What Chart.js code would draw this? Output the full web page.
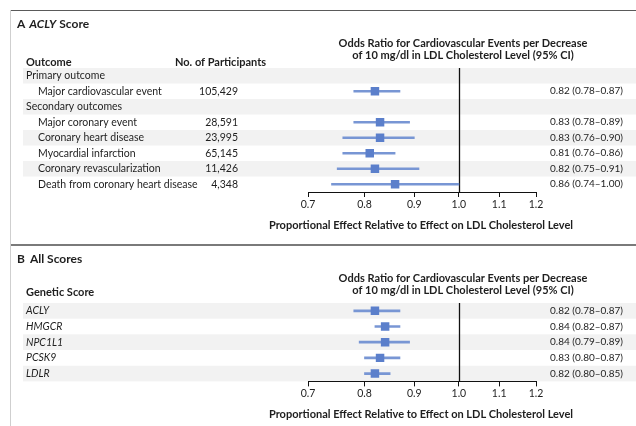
<!DOCTYPE html>
<html>
<head>
<meta charset="utf-8">
<script src="https://cdn.jsdelivr.net/npm/chart.js@4.4.1/dist/chart.umd.min.js"></script>
<style>
  html, body { margin: 0; padding: 0; background: #fff; }
  #fig { position: relative; width: 636px; height: 426px; overflow: hidden; background: #fff; }
  #fig canvas { position: absolute; left: 0; }
  .rule { position: absolute; }
</style>
</head>
<body>
<div id="fig">
  <canvas id="panelA" width="636" height="245" style="top:0"></canvas>
  <canvas id="panelB" width="636" height="181" style="top:245px"></canvas>
  <div class="rule" style="left:10px;top:10px;width:626px;height:1px;background:#5a5a5a"></div>
  <div class="rule" style="left:10px;top:244px;width:626px;height:2px;background:#7a7a7a"></div>
  <div class="rule" style="left:10px;top:10px;width:1px;height:416px;background:#cfcfcf"></div>
</div>
<script>
// ---- Panel A: ACLY score, by outcome ----
const outcomeRows = [
  'Primary outcome',
  'Major cardiovascular event',
  'Secondary outcomes',
  'Major coronary event',
  'Coronary heart disease',
  'Myocardial infarction',
  'Coronary revascularization',
  'Death from coronary heart disease'
];
const outcomeIndent = [0, 1, 0, 1, 1, 1, 1, 1];
const outcomeParticipants = ['', '105,429', '', '28,591', '23,995', '65,145', '11,426', '4,348'];
const outcomeOR   = [null, 0.82, null, 0.83, 0.83, 0.81, 0.82, 0.86];
const outcomeLow  = [null, 0.78, null, 0.78, 0.76, 0.76, 0.75, 0.74];
const outcomeHigh = [null, 0.87, null, 0.89, 0.90, 0.86, 0.91, 1.00];

// ---- Panel B: all genetic scores ----
const scoreRows = ['ACLY', 'HMGCR', 'NPC1L1', 'PCSK9', 'LDLR'];
const scoreOR   = [0.82, 0.84, 0.84, 0.83, 0.82];
const scoreLow  = [0.78, 0.82, 0.79, 0.80, 0.80];
const scoreHigh = [0.87, 0.87, 0.89, 0.87, 0.85];

// ---- Shared axis ----
const xTicks = [0.7, 0.8, 0.9, 1.0, 1.1, 1.2];
const orHeading = [
  'Odds Ratio for Cardiovascular Events per Decrease',
  'of 10 mg/dl in LDL Cholesterol Level (95% CI)'
];
const axisTitle = 'Proportional Effect Relative to Effect on LDL Cholesterol Level';

const FONT = 'Lato, "Open Sans", sans-serif';
const BODY = '10.5px ' + FONT;
const INK = '#1e1e1e';
const BAND = '#f2f2f2';
const MARK = '#5b7fcb';
const WHISKER = '#7896d4';

function ciLabel(or, lo, hi) {
  return or.toFixed(2) + ' (' + lo.toFixed(2) + '\u2013' + hi.toFixed(2) + ')';
}

function drawRun(ctx, parts, x, y) {
  let cx = x;
  for (const p of parts) {
    ctx.font = p.font;
    ctx.fillText(p.text, cx, y);
    cx += ctx.measureText(p.text).width + (p.gap || 0);
  }
}

function tablePlugin(cfg) {
  return {
    id: 'forestTable',
    beforeDraw(chart) {
      const { ctx, chartArea, scales } = chart;
      const n = cfg.rows.length;
      const h = (chartArea.bottom - chartArea.top) / n;
      ctx.save();
      ctx.fillStyle = BAND;
      for (let i = 0; i < n; i += 2) {
        const cy = scales.y.getPixelForValue(i);
        ctx.fillRect(23, cy - h / 2, chart.width - 23, h);
      }
      ctx.restore();
    },
    beforeDatasetsDraw(chart) {
      const { ctx, chartArea, scales } = chart;
      const x1 = Math.round(scales.x.getPixelForValue(1.0)) + 0.5;
      ctx.save();
      ctx.strokeStyle = '#111';
      ctx.lineWidth = 1.3;
      ctx.beginPath();
      ctx.moveTo(x1, chartArea.top);
      ctx.lineTo(x1, chartArea.bottom);
      ctx.stroke();
      ctx.restore();
    },
    afterDraw(chart) {
      const { ctx, scales, chartArea } = chart;
      ctx.save();
      ctx.fillStyle = INK;
      ctx.textBaseline = 'middle';
      ctx.textAlign = 'left';
      // panel title
      drawRun(ctx, cfg.title, 17, cfg.titleY);
      // column heads
      ctx.font = 'bold 11px ' + FONT;
      for (const hd of cfg.heads) {
        ctx.textAlign = hd.align || 'left';
        ctx.fillText(hd.text, hd.x, hd.y);
      }
      ctx.textAlign = 'center';
      ctx.fillText(orHeading[0], 463, cfg.orHeadY);
      ctx.fillText(orHeading[1], 463, cfg.orHeadY + 12.5);
      // axis title, centred under the scale
      ctx.fillText(axisTitle, (chartArea.left + chartArea.right) / 2 - 1, chartArea.bottom + 33);
      // rows
      for (let i = 0; i < cfg.rows.length; i++) {
        const cy = scales.y.getPixelForValue(i);
        ctx.textAlign = 'left';
        ctx.font = (cfg.italic ? 'italic ' : '') + BODY;
        ctx.fillText(cfg.rows[i], cfg.indent && cfg.indent[i] ? 38 : 26, cy);
        ctx.font = BODY;
        if (cfg.counts && cfg.counts[i]) {
          ctx.textAlign = 'right';
          ctx.fillText(cfg.counts[i], 238, cy);
        }
        if (cfg.or[i] != null) {
          ctx.textAlign = 'right';
          ctx.font = '10px ' + FONT;
          ctx.fillText(ciLabel(cfg.or[i], cfg.lo[i], cfg.hi[i]), 623, cy);
        }
      }
      ctx.restore();
    }
  };
}

function buildPanel(id, cfg) {
  return new Chart(document.getElementById(id), {
    type: 'bar',
    data: {
      labels: cfg.rows,
      datasets: [
        {
          type: 'line',
          indexAxis: 'y',
          data: cfg.or,
          showLine: false,
          pointStyle: 'rect',
          pointRadius: 6,
          pointBorderWidth: 0,
          pointBackgroundColor: MARK,
          order: 0
        },
        {
          type: 'bar',
          indexAxis: 'y',
          data: cfg.or.map((v, i) => v == null ? null : [cfg.lo[i], cfg.hi[i]]),
          backgroundColor: WHISKER,
          borderWidth: 0,
          borderSkipped: false,
          barThickness: 2,
          order: 1
        }
      ]
    },
    options: {
      indexAxis: 'y',
      responsive: false,
      animation: false,
      events: [],
      layout: { padding: { left: 308, right: 100, top: cfg.padTop, bottom: cfg.padBottom } },
      plugins: { legend: { display: false }, tooltip: { enabled: false } },
      scales: {
        y: {
          type: 'category',
          labels: cfg.rows,
          offset: true,
          display: false
        },
        x: {
          type: 'logarithmic',
          min: 0.7,
          max: 1.2,
          afterBuildTicks: (axis) => { axis.ticks = xTicks.map(v => ({ value: v })); },
          grid: { display: true, drawOnChartArea: false, drawTicks: true, tickLength: 5, color: '#111', lineWidth: 1 },
          border: { display: true, color: '#111', width: 1 },
          ticks: {
            autoSkip: false,
            maxRotation: 0,
            padding: 1,
            color: INK,
            font: { family: FONT, size: 10.5 },
            callback: (v) => Number(v).toFixed(1)
          },
          title: { display: false }
        }
      }
    },
    plugins: [tablePlugin(cfg)]
  });
}

buildPanel('panelA', {
  rows: outcomeRows,
  indent: outcomeIndent,
  counts: outcomeParticipants,
  or: outcomeOR, lo: outcomeLow, hi: outcomeHigh,
  italic: false,
  padTop: 68,
  padBottom: 33.4,
  titleY: 24,
  title: [
    { text: 'A', font: 'bold 12px ' + FONT, gap: 4 },
    { text: 'ACLY', font: 'italic bold 12px ' + FONT, gap: 3 },
    { text: 'Score', font: 'bold 12px ' + FONT }
  ],
  heads: [
    { text: 'Outcome', x: 26, y: 62 },
    { text: 'No. of Participants', x: 175, y: 62 }
  ],
  orHeadY: 43
});

buildPanel('panelB', {
  rows: scoreRows,
  or: scoreOR, lo: scoreLow, hi: scoreHigh,
  italic: true,
  padTop: 58,
  padBottom: 25,
  titleY: 14,
  title: [
    { text: 'B', font: 'bold 12px ' + FONT, gap: 5 },
    { text: 'All Scores', font: 'bold 12px ' + FONT }
  ],
  heads: [
    { text: 'Genetic Score', x: 26, y: 47 }
  ],
  orHeadY: 33
});
</script>
</body>
</html>
